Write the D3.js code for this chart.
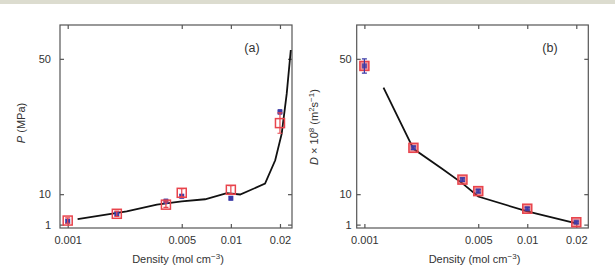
<!DOCTYPE html>
<html>
<head>
<meta charset="utf-8">
<script src="https://cdn.jsdelivr.net/npm/d3@7"></script>
<style>
  body { margin: 0; background: #fff; }
  svg { display: block; font-family: "Liberation Sans", Arial, sans-serif; }
</style>
</head>
<body>
<div id="chart"></div>
<script>
// shared axes
const density = [0.001, 0.002, 0.004, 0.005, 0.01, 0.02];
const xTicks = [0.001, 0.005, 0.01, 0.02];
const xTickLabels = ["0.001", "0.005", "0.01", "0.02"];
const yTicks = [1, 10, 50];

// panel (a) pressure
const pSim = [2.2, 4.2, 6.9, 10.4, 11.3, 31.0];
const pSimErr = [0.8, 0.8, 0.8, 1.2, 1.2, 3.0];
const pExp = [2.0, 4.2, 7.9, 9.4, 8.8, 34.3];
const pExpErr = [0.4, 0.4, 0.6, 0.5, 0.5, 0.6];
const pLineX = [0.00115, 0.0023, 0.00352, 0.005, 0.00695, 0.00944, 0.0114, 0.0162, 0.0187, 0.0205, 0.022, 0.0233];
const pLineY = [2.6, 4.9, 6.9, 7.9, 8.5, 10.3, 9.9, 13.1, 20, 27.9, 39.7, 52.6];

// panel (b) diffusion
const dSim = [47.9, 23.7, 14.3, 10.9, 5.7, 1.7];
const dSimErr = [2.1, 0.5, 0.5, 0.5, 0.4, 0.3];
const dLineX = [0.00131, 0.002, 0.003, 0.004, 0.005, 0.01, 0.02];
const dLineY = [41.5, 23.4, 17.5, 13.2, 9.3, 4.9, 1.4];

const W = 615, H = 268;
const red = "#e8444c", blue = "#3b3ba8", frame = "#555", txt = "#333";

const svg = d3.select("#chart").append("svg")
  .attr("width", W).attr("height", H);

// light band at the very top
svg.append("rect").attr("x", 0).attr("y", 0).attr("width", W).attr("height", 4)
  .attr("fill", "#dcdccf");

function drawPanel(opt) {
  const x = d3.scaleLog().domain([0.000897, 0.0237]).range([opt.left, opt.right]);
  const y = d3.scaleLinear().domain([0, 60]).range([228, 25]);
  const g = svg.append("g");

  // frame
  g.append("rect")
    .attr("x", opt.left).attr("y", 25)
    .attr("width", opt.right - opt.left).attr("height", 203)
    .attr("fill", "none").attr("stroke", frame).attr("stroke-width", 1.2);

  // ticks, all sides, inward
  const tk = 4;
  const bottom = d3.axisBottom(x).tickValues(xTicks).tickSize(-tk)
    .tickFormat((d, i) => xTickLabels[i]).tickPadding(8);
  const top = d3.axisTop(x).tickValues(xTicks).tickSize(-tk).tickFormat("");
  const left = d3.axisLeft(y).tickValues(yTicks).tickSize(-tk).tickPadding(opt.ypad);
  const right = d3.axisRight(y).tickValues(yTicks).tickSize(-tk).tickFormat("");

  [[bottom, `translate(0,228)`], [top, `translate(0,25)`],
   [left, `translate(${opt.left},0)`], [right, `translate(${opt.right},0)`]]
    .forEach(([ax, tr]) => {
      const a = g.append("g").attr("transform", tr).call(ax);
      a.select(".domain").remove();
      a.selectAll("line").attr("stroke", frame).attr("stroke-width", 1.2);
      a.selectAll("text").attr("fill", txt).style("font-size", "11px")
        .style("font-family", "Liberation Sans, Arial, sans-serif");
    });

  // axis titles
  const xt = g.append("text").attr("x", (opt.left + opt.right) / 2 + 2).attr("y", 263)
    .attr("text-anchor", "middle").attr("fill", txt).style("font-size", "11px");
  xt.append("tspan").text("Density (mol cm");
  xt.append("tspan").attr("dy", -4).style("font-size", "8px").text("\u22123");
  xt.append("tspan").attr("dy", 4).text(")");

  const yt = g.append("text")
    .attr("transform", `translate(${opt.ytx},${opt.yty}) rotate(-90)`)
    .attr("text-anchor", "middle").attr("fill", txt).style("font-size", "11px");
  opt.ytitle(yt);

  // panel letter
  g.append("text").attr("x", opt.lx).attr("y", 52).attr("text-anchor", "middle")
    .attr("fill", txt).style("font-size", "12.5px").text(opt.letter);

  // model line
  const pts = opt.lineX.map((d, i) => [d, opt.lineY[i]]);
  g.append("path").datum(pts)
    .attr("d", d3.line().x(d => x(d[0])).y(d => y(d[1])))
    .attr("fill", "none").attr("stroke", "#111").attr("stroke-width", 1.8);

  return { g, x, y };
}

function errBars(g, x, y, vals, errs, color, cap) {
  g.selectAll(null).data(vals).enter().append("path")
    .attr("d", (d, i) => {
      const cx = x(density[i]), y0 = y(d - errs[i]), y1 = y(d + errs[i]);
      return `M${cx},${y0}V${y1}M${cx - cap},${y0}H${cx + cap}M${cx - cap},${y1}H${cx + cap}`;
    })
    .attr("stroke", color).attr("stroke-width", 1.2).attr("fill", "none");
}

// ---- panel (a)
const A = drawPanel({
  left: 60, right: 292, ypad: 9, ytx: 25, yty: 123, lx: 252, letter: "(a)",
  lineX: pLineX, lineY: pLineY,
  ytitle: t => {
    t.append("tspan").style("font-style", "italic").text("P");
    t.append("tspan").text(" (MPa)");
  }
});
A.g.selectAll(null).data(pExp).enter().append("rect")
  .attr("x", (d, i) => A.x(density[i]) - 2.5).attr("y", d => A.y(d) - 2.5)
  .attr("width", 5).attr("height", 5).attr("fill", blue);
errBars(A.g, A.x, A.y, pExp, pExpErr, blue, 2);
A.g.selectAll(null).data(pSim).enter().append("rect")
  .attr("x", (d, i) => A.x(density[i]) - 4.5).attr("y", d => A.y(d) - 4.5)
  .attr("width", 9).attr("height", 9).attr("fill", "none")
  .attr("stroke", red).attr("stroke-width", 1.5);
errBars(A.g, A.x, A.y, pSim, pSimErr, red, 2.5);

// ---- panel (b)
const B = drawPanel({
  left: 356.7, right: 588.3, ypad: 5, ytx: 318, yty: 127, lx: 550, letter: "(b)",
  lineX: dLineX, lineY: dLineY,
  ytitle: t => {
    t.append("tspan").style("font-style", "italic").text("D");
    t.append("tspan").text(" \u00d7 10");
    t.append("tspan").attr("dy", -4).style("font-size", "8px").text("8");
    t.append("tspan").attr("dy", 4).text(" (m");
    t.append("tspan").attr("dy", -4).style("font-size", "8px").text("2");
    t.append("tspan").attr("dy", 4).text("s");
    t.append("tspan").attr("dy", -4).style("font-size", "8px").text("\u22121");
    t.append("tspan").attr("dy", 4).text(")");
  }
});
B.g.selectAll(null).data(dSim).enter().append("rect")
  .attr("x", (d, i) => B.x(density[i]) - 4.5).attr("y", d => B.y(d) - 4.5)
  .attr("width", 9).attr("height", 9).attr("fill", red).attr("fill-opacity", 0.55)
  .attr("stroke", red).attr("stroke-width", 1.5);
B.g.selectAll(null).data(dSim).enter().append("rect")
  .attr("x", (d, i) => B.x(density[i]) - 2.5).attr("y", d => B.y(d) - 2.5)
  .attr("width", 5).attr("height", 5).attr("fill", blue).attr("fill-opacity", 0.8);
errBars(B.g, B.x, B.y, dSim, dSimErr, blue, 2.5);
</script>
</body>
</html>
